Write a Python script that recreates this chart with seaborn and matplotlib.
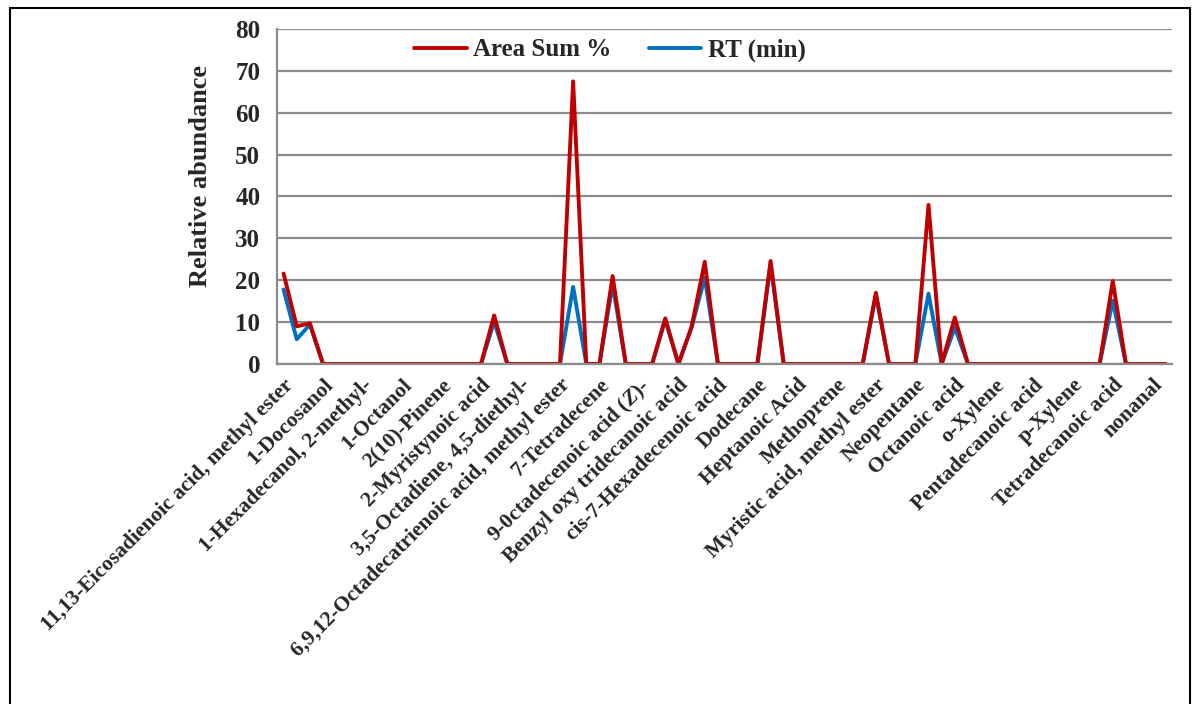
import numpy as np
import pandas as pd
import matplotlib.pyplot as plt
import seaborn as sns
from matplotlib.patches import Rectangle
from matplotlib.ticker import FixedLocator, MultipleLocator

sns.set_style("white")
plt.rcParams["font.family"] = ["Liberation Serif", "DejaVu Serif"]
plt.rcParams["font.weight"] = "bold"
plt.rcParams["mathtext.fontset"] = "custom"
plt.rcParams["mathtext.it"] = "Liberation Serif:italic:bold"
plt.rcParams["mathtext.rm"] = "Liberation Serif:bold"

# labels shown under every third compound
labels = [
    "11,13-Eicosadienoic acid, methyl ester", "1-Docosanol", "1-Hexadecanol, 2-methyl-",
    "1-Octanol", "2(10)-Pinene", "2-Myristynoic acid", "3,5-Octadiene, 4,5-diethyl-",
    "6,9,12-Octadecatrienoic acid, methyl ester", "7-Tetradecene", "9-0ctadecenoic acid ($\\mathit{Z}$)-",
    "Benzyl oxy tridecanoic acid", "cis-7-Hexadecenoic acid", "Dodecane", "Heptanoic Acid",
    "Methoprene", "Myristic acid, methyl ester", "Neopentane", "Octanoic acid", "o-Xylene",
    "Pentadecanoic acid", "p-Xylene", "Tetradecanoic acid", "nonanal",
]

area_sum = [
    21.6, 9.0, 9.7, 0, 0, 0, 0, 0, 0, 0, 0, 0, 0, 0, 0, 0, 11.6, 0, 0, 0,
    0, 0, 67.5, 0, 0, 21.0, 0, 0, 0, 10.9, 0, 8.9, 24.4, 0, 0, 0, 0, 24.6, 0, 0,
    0, 0, 0, 0, 0, 17.0, 0, 0, 0, 38.0, 0, 11.1, 0, 0, 0, 0, 0, 0, 0, 0,
    0, 0, 0, 19.8, 0, 0, 0, 0,
]
rt_min = [
    17.8, 5.9, 9.4, 0, 0, 0, 0, 0, 0, 0, 0, 0, 0, 0, 0, 0, 10.1, 0, 0, 0,
    0, 0, 18.4, 0, 0, 19.0, 0, 0, 0, 10.5, 0, 8.7, 20.6, 0, 0, 0, 0, 23.8, 0, 0,
    0, 0, 0, 0, 0, 16.5, 0, 0, 0, 16.8, 0, 8.7, 0, 0, 0, 0, 0, 0, 0, 0,
    0, 0, 0, 15.1, 0, 0, 0, 0,
]

df = pd.DataFrame({"idx": np.arange(len(area_sum)), "area": area_sum, "rt": rt_min})

fig = plt.figure(figsize=(11.98, 7.04), dpi=100)
ax = fig.add_axes([0.2312, 0.4830, 0.7471, 0.4758])

sns.lineplot(data=df, x="idx", y="rt", color="#0070C0", lw=2.8, label="RT (min)", ax=ax)
sns.lineplot(data=df, x="idx", y="area", color="#C00000", lw=2.8, label="Area Sum %", ax=ax)

n = len(area_sum)
ax.set_xlim(-0.5, n - 0.5)
ax.set_ylim(0, 80)
ax.yaxis.set_major_locator(MultipleLocator(10))
ax.grid(axis="y", color="#8c8c8c", lw=1.6)
ax.set_axisbelow(True)

# category labels at every third point, tick marks on category boundaries
ax.xaxis.set_major_locator(FixedLocator(np.arange(0, n, 3)))
ax.set_xticklabels(labels, rotation=45, ha="right", rotation_mode="anchor", fontsize=15.5, fontweight="bold")
ax.xaxis.set_minor_locator(FixedLocator(np.arange(-0.5, n, 1)))
ax.tick_params(axis="x", which="major", length=0, pad=8)
ax.tick_params(axis="x", which="minor", length=5, width=1.3, color="#8c8c8c", direction="out")
ax.tick_params(axis="y", length=6, width=1.3, color="#8c8c8c", labelsize=18, pad=6)
for t in ax.get_yticklabels():
    t.set_fontweight("bold")

for s in ["top", "right"]:
    ax.spines[s].set_visible(False)
for s in ["left", "bottom"]:
    ax.spines[s].set_color("#8c8c8c")
    ax.spines[s].set_linewidth(1.6)

ax.set_xlabel("")
ax.set_ylabel("Relative abundance", fontsize=19, fontweight="bold")
ax.yaxis.set_label_coords(-0.0726, 0.56)

h, l = ax.get_legend_handles_labels()
ax.legend(h[::-1], l[::-1], loc="center", bbox_to_anchor=(0.372, 0.937), ncol=2,
          frameon=False, prop={"size": 18, "weight": "bold"}, handlelength=2.1,
          handletextpad=0.25, columnspacing=1.5)

fig.patches.append(Rectangle((10 / 1198, -0.1), 1180 / 1198, 1.1 - 8 / 704, fill=False,
                             edgecolor="black", lw=1.5, transform=fig.transFigure))

fig.savefig("out.png", dpi=100)
